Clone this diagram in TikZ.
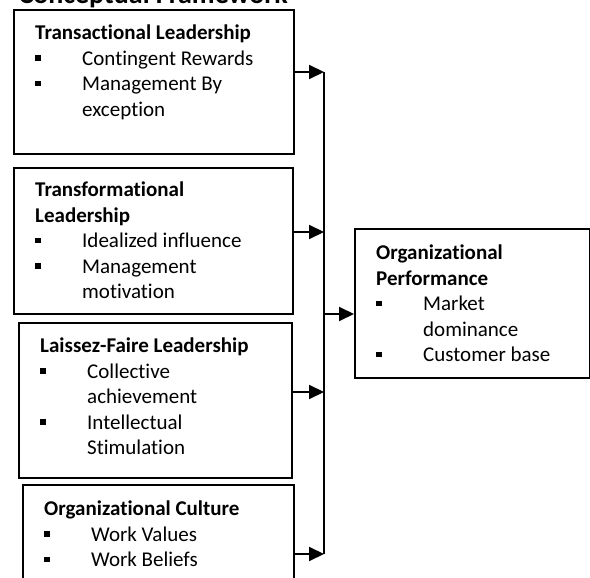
\documentclass[tikz,border=0pt]{standalone}
\usepackage{fontspec}
\setmainfont{Carlito}[Ligatures=NoCommon]
\usetikzlibrary{arrows.meta,calc}

\newcommand{\bul}{\makebox[47pt][l]{\rule[4.5pt]{5.5pt}{5.5pt}}}
\newcommand{\cont}{\hspace*{47pt}}

\tikzset{
  frame/.style={draw, line width=2pt, anchor=north west, inner sep=0pt},
  blurb/.style={anchor=north west, align=left, inner sep=0pt,
    font=\fontsize{21}{25.5}\selectfont},
  feed/.style={line width=2pt, -{Triangle[length=15pt,width=14pt]}}
}

\begin{document}
\begin{tikzpicture}[x=1pt,y=-1pt]
    \useasboundingbox (0,0) rectangle (590,578);

    \node[anchor=base west, font=\bfseries\fontsize{28}{30}\selectfont] (title)
      at (15,4) {Conceptual Framework};

    % boxes on the left
    \node[frame, minimum width=280, minimum height=144] (trans) at (13,9) {};
    \node[frame, minimum width=279, minimum height=146] (transf) at (13,167) {};
    \node[frame, minimum width=273, minimum height=155] (laissez) at (18,322) {};
    \node[frame, minimum width=271, minimum height=130] (culture) at (22,484) {};
    % outcome box
    \node[frame, minimum width=235, minimum height=149] (perf) at (354,228) {};

    \node[blurb] (trans-txt) at ($(trans.north west)+(22,16)$)
      {\textbf{Transactional Leadership}\\
       \bul Contingent Rewards\\
       \bul Management By\\
       \cont exception};
    \node[blurb] (transf-txt) at ($(transf.north west)+(22,15)$)
      {\textbf{Transformational}\\
       \textbf{Leadership}\\
       \bul Idealized influence\\
       \bul Management\\
       \cont motivation};
    \node[blurb] (laissez-txt) at ($(laissez.north west)+(22,16)$)
      {\textbf{Laissez-Faire Leadership}\\
       \bul Collective\\
       \cont achievement\\
       \bul Intellectual\\
       \cont Stimulation};
    \node[blurb] (culture-txt) at ($(culture.north west)+(22,17)$)
      {\textbf{Organizational Culture}\\
       \bul Work Values\\
       \bul Work Beliefs};
    \node[blurb] (perf-txt) at ($(perf.north west)+(22,17)$)
      {\textbf{Organizational}\\
       \textbf{Performance}\\
       \bul Market\\
       \cont dominance\\
       \bul Customer base};

    % collecting line
    \coordinate (busTop) at (324,72);
    \coordinate (busTwo) at (324,232);
    \coordinate (busOut) at (324,314);
    \coordinate (busThree) at (324,392);
    \coordinate (busBot) at (324,554);
    \draw[line width=2pt] (busTop) -- (busBot);

    \draw[feed] (trans.east |- busTop) -- (busTop);
    \draw[feed] (transf.east |- busTwo) -- (busTwo);
    \draw[feed] (laissez.east |- busThree) -- (busThree);
    \draw[feed] (culture.east |- busBot) -- (busBot);
    \draw[feed] (busOut) -- (perf.west |- busOut);
\end{tikzpicture}
\end{document}
